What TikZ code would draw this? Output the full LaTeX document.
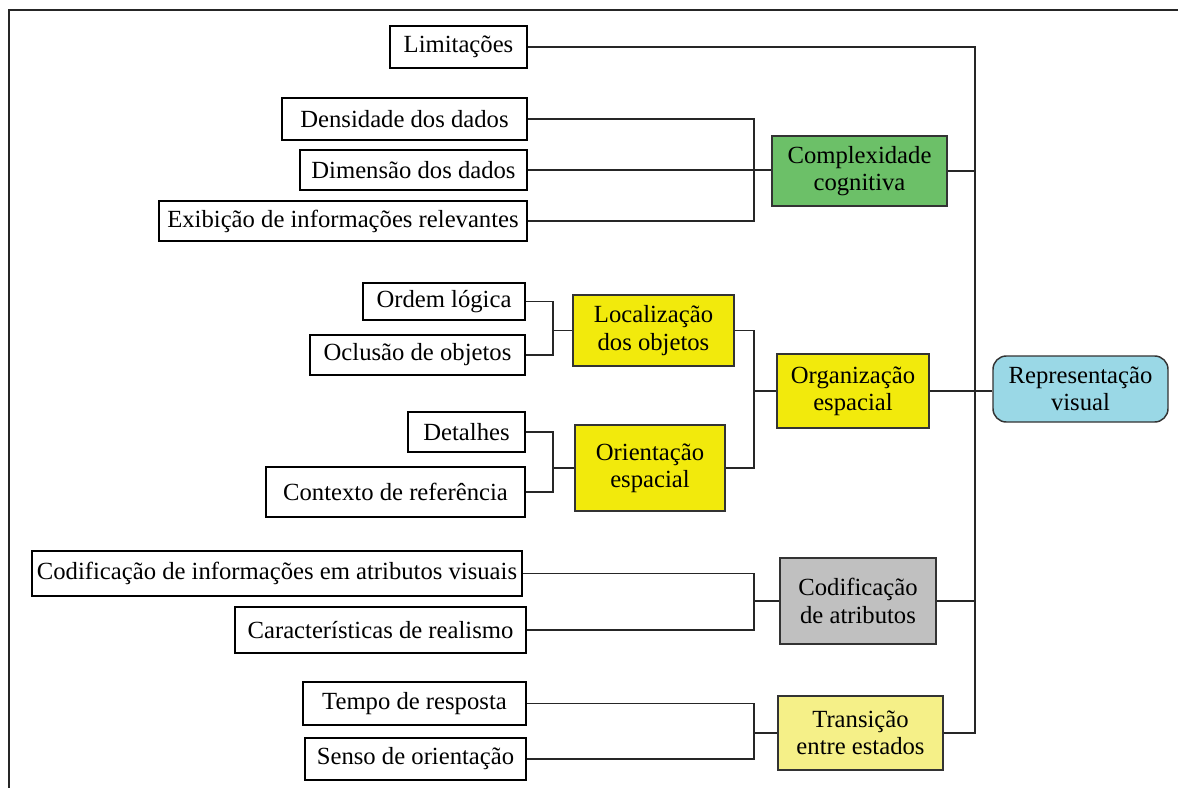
\documentclass[tikz,border=0pt]{standalone}
\usepackage{fontspec}
\setmainfont{Liberation Serif}
% place a box by its corner coordinates: name, x1, y1, x2, y2, style, text
\newcommand{\cornerbox}[7]{%
  \node[#6, minimum width={(#4-#2)*0.75pt}, minimum height={(#5-#3)*0.75pt}]
    (#1) at ({(#2+#4)/2},{(#3+#5)/2}) {#7};}
\begin{document}
\begin{tikzpicture}[x=0.75pt,y=-0.75pt,
  every node/.style={inner sep=0pt, align=center, font=\fontsize{18.5}{20.5}\selectfont},
  leaf/.style={draw=black, fill=white, line width=1.1pt},
  topic/.style={draw=black!80, line width=1.1pt},
  link/.style={draw=black!85, line width=1pt},
  frameline/.style={draw=black!85, line width=1.6pt}]
\definecolor{cgreen}{RGB}{108,192,104}
\definecolor{cyellow}{RGB}{242,234,12}
\definecolor{cgray}{RGB}{192,192,192}
\definecolor{cpale}{RGB}{245,240,136}
\definecolor{cblue}{RGB}{154,216,230}
\useasboundingbox (0,0) rectangle (1178,788);

% outer frame (top and left edges)
\draw[frameline] (1178,10) -- (9,10) -- (9,788);

% bracket columns
\coordinate (trunk) at (975,0);
\coordinate (bx1) at (754,0);
\coordinate (bx2) at (553,0);

% leaves
\cornerbox{lim}{390}{26}{527}{68}{leaf}{Limitações}
\cornerbox{dens}{282}{98}{527}{140}{leaf}{Densidade dos dados}
\cornerbox{dim}{300}{150}{527}{190}{leaf}{Dimensão dos dados}
\cornerbox{exib}{159}{201}{527}{241}{leaf}{Exibição de informações relevantes}
\cornerbox{ord}{363}{283}{525}{320}{leaf}{Ordem lógica}
\cornerbox{ocl}{310}{335}{525}{375}{leaf}{Oclusão de objetos}
\cornerbox{det}{408}{412}{525}{452}{leaf}{Detalhes}
\cornerbox{ctx}{266}{467}{525}{517}{leaf}{Contexto de referência}
\cornerbox{cinfo}{32}{551}{522}{596}{leaf}{Codificação de informações em atributos visuais}
\cornerbox{real}{235}{607}{526}{653}{leaf}{Características de realismo}
\cornerbox{tempo}{303}{682}{526}{725}{leaf}{Tempo de resposta}
\cornerbox{senso}{305}{738}{526}{780}{leaf}{Senso de orientação}

% topics
\cornerbox{compl}{772}{136}{947}{206}{topic, fill=cgreen}{Complexidade\\cognitiva}
\cornerbox{loc}{573}{295}{734}{366}{topic, fill=cyellow}{Localização\\dos objetos}
\cornerbox{ori}{575}{425}{725}{511}{topic, fill=cyellow}{Orientação\\espacial}
\cornerbox{org}{777}{354}{929}{428}{topic, fill=cyellow}{Organização\\espacial}
\cornerbox{cod}{780}{558}{936}{644}{topic, fill=cgray}{Codificação\\de atributos}
\cornerbox{trans}{778}{696}{943}{770}{topic, fill=cpale}{Transição\\entre estados}
\cornerbox{rep}{993}{356}{1168}{422}{topic, fill=cblue, rounded corners=10pt}{Representação\\visual}

% main trunk
\draw[link] (lim.east) -| (trans.east -| trunk) -- (trans.east);
\draw[link] (compl.east) -- (compl.east -| trunk);
\draw[link] (org.east) -- (org.east -| rep.west);
\draw[link] (cod.east) -- (cod.east -| trunk);

% complexidade cognitiva
\draw[link] (dens.east) -| (exib.east -| bx1) -- (exib.east);
\draw[link] (dim.east) -- (dim.east -| compl.west);

% localizacao dos objetos
\draw[link] (ord.east) -| (ocl.east -| bx2) -- (ocl.east);
\draw[link] (loc.west -| bx2) -- (loc.west);

% orientacao espacial
\draw[link] (det.east) -| (ctx.east -| bx2) -- (ctx.east);
\draw[link] (ori.west -| bx2) -- (ori.west);

% organizacao espacial
\draw[link] (loc.east) -| (ori.east -| bx1) -- (ori.east);
\draw[link] (org.west -| bx1) -- (org.west);

% codificacao de atributos
\draw[link] (cinfo.east) -| (real.east -| bx1) -- (real.east);
\draw[link] (cod.west -| bx1) -- (cod.west);

% transicao entre estados
\draw[link] (tempo.east) -| (senso.east -| bx1) -- (senso.east);
\draw[link] (trans.west -| bx1) -- (trans.west);
\end{tikzpicture}
\end{document}
